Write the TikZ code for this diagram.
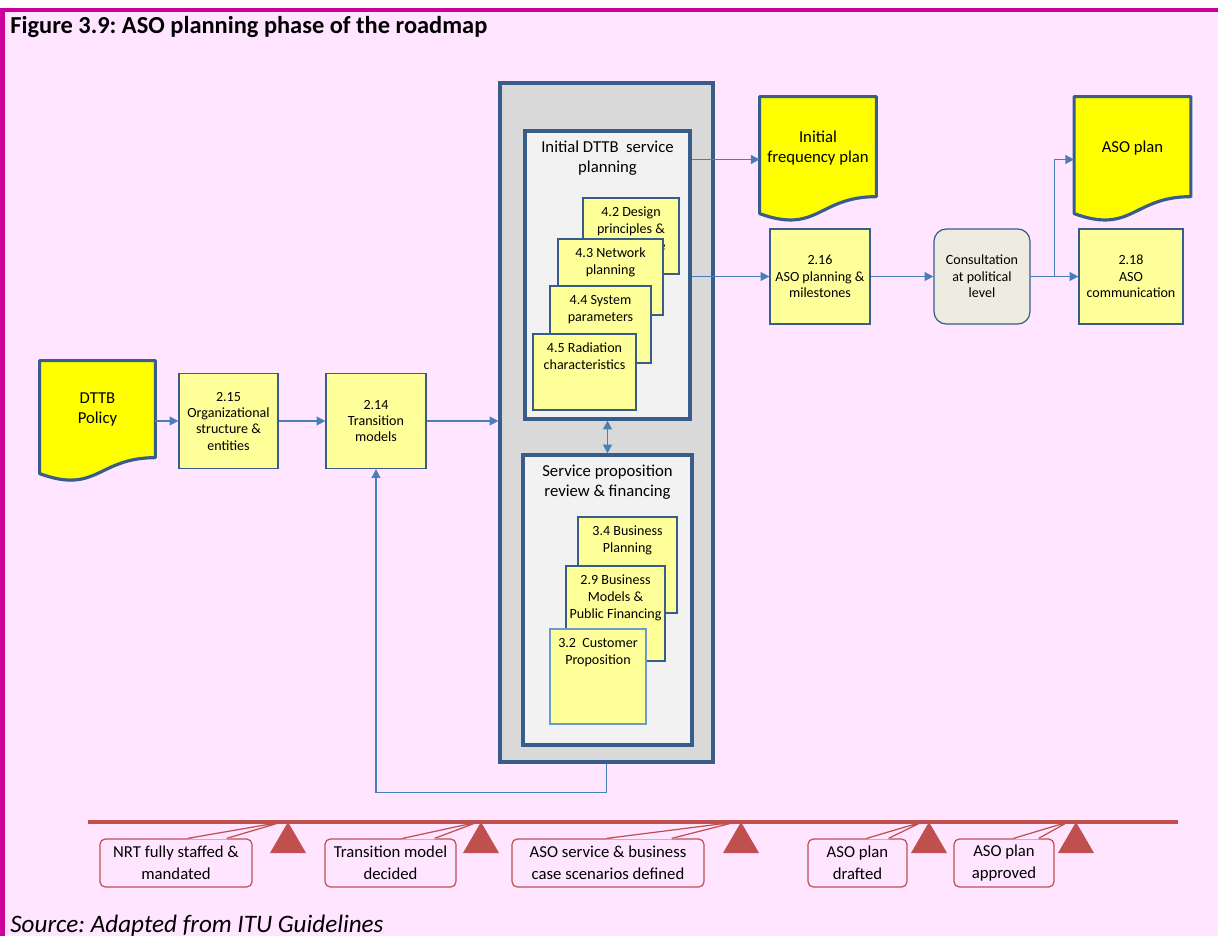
\documentclass[tikz,border=0pt]{standalone}
\usepackage{fontspec}
\setmainfont{Carlito}
\usetikzlibrary{arrows.meta,calc}
\frenchspacing

\definecolor{pinkbg}{HTML}{FFE5FF}
\definecolor{framemag}{HTML}{CC0099}
\definecolor{boxblue}{HTML}{385D8A}
\definecolor{flowblue}{HTML}{4A7EBB}
\definecolor{lightblue}{HTML}{6C9BD2}
\definecolor{paleyellow}{HTML}{FFFF99}
\definecolor{docyellow}{HTML}{FFFF00}
\definecolor{outergrey}{HTML}{D9D9D9}
\definecolor{innergrey}{HTML}{F2F2F2}
\definecolor{consultfill}{HTML}{EEECE1}
\definecolor{msred}{HTML}{C0504D}

\begin{document}
\begin{tikzpicture}[x=0.02cm, y=-0.02cm,
    flow/.style={draw=flowblue, line width=0.9pt, -{Triangle[length=5pt, width=5pt]}},
    twoway/.style={draw=flowblue, line width=0.9pt,
        {Triangle[length=5pt, width=5pt]}-{Triangle[length=5pt, width=5pt]}},
    box/.style={draw=boxblue, line width=0.7pt, fill=paleyellow, align=center,
        inner sep=1pt, minimum width=#1*0.02cm, minimum height=95*0.02cm,
        font=\fontsize{8}{9.3}\selectfont},
    subbox/.style 2 args={draw=boxblue, line width=0.6pt, fill=paleyellow,
        minimum width=#1*0.02cm, minimum height=#2*0.02cm, inner sep=0pt},
    subtext/.style={anchor=north, align=center, inner sep=5.3pt,
        font=\fontsize{8}{9.6}\selectfont},
    panel/.style 2 args={draw=boxblue, line width=1.8pt, inner sep=0pt,
        minimum width=#1*0.02cm, minimum height=#2*0.02cm},
    paneltext/.style={anchor=north, align=center, inner sep=6.3pt,
        font=\fontsize{9.5}{11.3}\selectfont},
    docbox/.style 2 args={minimum width=#1*0.02cm, minimum height=#2*0.02cm,
        inner sep=0pt},
    docshape/.style={draw=boxblue, line width=1.8pt, fill=docyellow, line join=round},
    doctext/.style={align=center, inner sep=0pt, font=\fontsize{9.5}{11.3}\selectfont},
    consult/.style={draw=boxblue, line width=0.7pt, fill=consultfill,
        rounded corners=7pt, align=center, inner sep=1pt,
        minimum width=96*0.02cm, minimum height=95*0.02cm,
        font=\fontsize{8}{9.3}\selectfont},
    mstone/.style={draw=msred, line width=0.7pt, fill=pinkbg, rounded corners=3pt,
        align=center, inner sep=0pt, minimum height=48*0.02cm,
        minimum width=#1*0.02cm, font=\fontsize{9.5}{12.4}\selectfont},
    pointer/.style={draw=msred, line width=0.7pt, line join=round},
]

    % Frame
    \useasboundingbox (0,0) rectangle (1218,936);
    \fill[white] (0,0) rectangle (1218,936);
    \fill[pinkbg] (0,8) rectangle (1218,936);
    \fill[framemag] (0,8) rectangle (1218,12);
    \fill[framemag] (0,8) rectangle (5,936);

    \node[anchor=base west, inner sep=0pt, font=\fontsize{13.9}{16}\selectfont\bfseries]
        (title) at (10,34) {Figure 3.9: ASO planning phase of the roadmap};
    \node[anchor=base west, inner sep=0pt, font=\fontsize{14.3}{16}\selectfont\itshape]
        (source) at (10,932) {Source: Adapted from ITU Guidelines};

    % Policy and first steps
    \node[docbox={115}{121}] (dttb) at (97.5,421.5) {};
    \filldraw[docshape] (dttb.north west) -- (dttb.north east) -- ++(0,97)
        .. controls +(-57.5,0) and +(57.5,21) .. ($(dttb.north west)+(0,113)$) -- cycle;
    \node[doctext] (dttbtext) at ([yshift=6.8pt]dttb.center) {DTTB\\Policy};

    \node[box=99] (m215) at (228.5,421) {2.15\\Organizational\\structure \&\\entities};
    \node[box=100] (m214) at (376,421) {2.14\\Transition\\models};

    % Planning block
    \node[panel={213}{679}, fill=outergrey] (outer) at (606.5,422.5) {};
    \node[panel={165}{288}, fill=innergrey,
        label={[paneltext]north:Initial DTTB~ service\\planning}] (initial) at (607.5,275) {};
    \node[panel={169}{290}, fill=innergrey,
        label={[paneltext]north:Service proposition\\review \& financing}] (review) at (607.5,600) {};

    \node[subbox={96}{76}, label={[subtext]north:4.2 Design\\principles \&\\architecture}]
        (s42) at (631,236) {};
    \node[subbox={105}{76}, label={[subtext]north:4.3 Network\\planning}]
        (s43) at (610.5,277) {};
    \node[subbox={101}{77}, label={[subtext]north:4.4 System\\parameters}]
        (s44) at (600.5,324.5) {};
    \node[subbox={103}{76}, label={[subtext]north:4.5 Radiation\\characteristics}]
        (s45) at (584.5,372) {};

    \node[subbox={99}{96}, label={[subtext]north:3.4 Business\\Planning}]
        (s34) at (627.5,565) {};
    \node[subbox={99}{95}, label={[subtext]north:2.9 Business\\Models \&\\Public Financing}]
        (s29) at (615.5,613.5) {};
    \node[subbox={96}{95}, draw=lightblue, label={[subtext]north:3.2~ Customer\\Proposition}]
        (s32) at (598,676.5) {};

    % Outputs
    \node[docbox={116}{125}] (freqplan) at (818,159.5) {};
    \filldraw[docshape] (freqplan.north west) -- (freqplan.north east) -- ++(0,100)
        .. controls +(-58,0) and +(58,21) .. ($(freqplan.north west)+(0,117)$) -- cycle;
    \node[doctext] (freqtext) at ([yshift=6.5pt]freqplan.center) {Initial\\frequency plan};

    \node[docbox={116}{125}] (asoplan) at (1132.5,159.5) {};
    \filldraw[docshape] (asoplan.north west) -- (asoplan.north east) -- ++(0,100)
        .. controls +(-58,0) and +(58,21) .. ($(asoplan.north west)+(0,117)$) -- cycle;
    \node[doctext] (asotext) at ([yshift=6.5pt]asoplan.center) {ASO plan};

    \node[box=100] (m216) at (820,276.5) {2.16\\ASO planning \&\\milestones};
    \node[consult] (political) at (982,276.5) {Consultation\\at political\\level};
    \node[box=104] (m218) at (1131,276.5) {2.18\\ASO\\communication};

    % Arrows
    \draw[flow] (dttb.east |- m215.west) -- (m215.west);
    \draw[flow] (m215) -- (m214);
    \draw[flow] (m214) -- (m214 -| outer.west);
    \draw[twoway] (initial) -- (review);
    \draw[flow] (initial.east |- freqplan.west) -- (freqplan.west);
    \draw[flow] (initial.east |- m216.west) -- (m216.west);
    \draw[flow] (m216) -- (political);
    \draw[flow] (political) -- (m218);
    \draw[flow] (political.east) -- ++(24,0) |- (asoplan.west);
    \draw[flow] (outer.south) -- ++(0,29) -| (m214.south);

    % Milestones
    \coordinate (t1) at (288,822);
    \coordinate (t2) at (481,822);
    \coordinate (t3) at (741,822);
    \coordinate (t4) at (929,822);
    \coordinate (t5) at (1076,822);

    \node[mstone=152] (c1) at (176,863) {NRT fully staffed \&\\mandated};
    \fill[pinkbg] ($(c1.north east)+(-65,0.9)$) -- ($(t1)+(-6,0)$) -- ($(c1.north east)+(-26,0.9)$) -- cycle;
    \draw[pointer] ($(c1.north east)+(-65,0)$) -- ($(t1)+(-6,0)$) -- ($(c1.north east)+(-26,0)$);

    \node[mstone=131] (c2) at (390.5,863) {Transition model\\decided};
    \fill[pinkbg] ($(c2.north east)+(-54,0.9)$) -- ($(t2)+(-3,0)$) -- ($(c2.north east)+(-22,0.9)$) -- cycle;
    \draw[pointer] ($(c2.north east)+(-54,0)$) -- ($(t2)+(-3,0)$) -- ($(c2.north east)+(-22,0)$);

    \node[mstone=192] (c3) at (608,863) {ASO service \& business\\case scenarios defined};
    \fill[pinkbg] ($(c3.north east)+(-98,0.9)$) -- ($(t3)+(-5,0)$) -- ($(c3.north east)+(-33,0.9)$) -- cycle;
    \draw[pointer] ($(c3.north east)+(-98,0)$) -- ($(t3)+(-5,0)$) -- ($(c3.north east)+(-33,0)$);

    \node[mstone=99] (c4) at (857.5,863) {ASO plan\\drafted};
    \fill[pinkbg] ($(c4.north east)+(-41,0.9)$) -- ($(t4)+(-7,0)$) -- ($(c4.north east)+(-19,0.9)$) -- cycle;
    \draw[pointer] ($(c4.north east)+(-41,0)$) -- ($(t4)+(-7,0)$) -- ($(c4.north east)+(-19,0)$);

    \node[mstone=100] (c5) at (1004,863) {ASO plan\\approved};
    \fill[pinkbg] ($(c5.north east)+(-41,0.9)$) -- ($(t5)+(-8,0)$) -- ($(c5.north east)+(-16,0.9)$) -- cycle;
    \draw[pointer] ($(c5.north east)+(-41,0)$) -- ($(t5)+(-8,0)$) -- ($(c5.north east)+(-16,0)$);

    \draw[msred, line width=2pt] (88,822) -- (1178,822);
    \fill[msred] (t1) -- ++(-18,31) -- ++(36,0) -- cycle;
    \fill[msred] (t2) -- ++(-18,31) -- ++(36,0) -- cycle;
    \fill[msred] (t3) -- ++(-18,31) -- ++(36,0) -- cycle;
    \fill[msred] (t4) -- ++(-18,31) -- ++(36,0) -- cycle;
    \fill[msred] (t5) -- ++(-18,31) -- ++(36,0) -- cycle;

\end{tikzpicture}
\end{document}
